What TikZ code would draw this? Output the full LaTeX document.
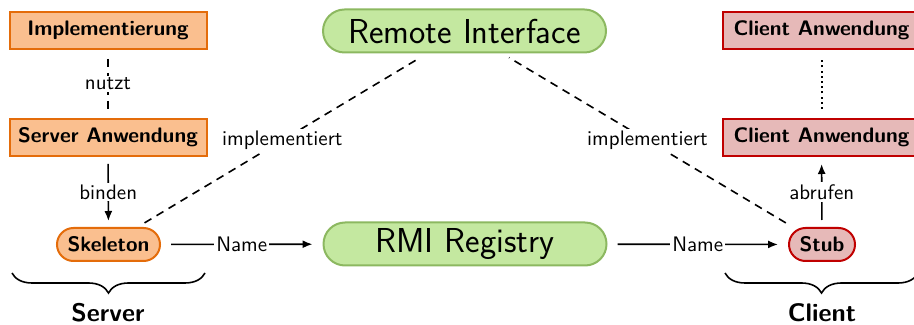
\documentclass[tikz,border=0pt]{standalone}
\usetikzlibrary{arrows.meta,decorations.pathreplacing}
\definecolor{srvfill}{HTML}{FABF8F}
\definecolor{srvline}{HTML}{E46C0A}
\definecolor{clifill}{HTML}{E6B9B8}
\definecolor{cliline}{HTML}{C00000}
\definecolor{midfill}{HTML}{C4E8A0}
\definecolor{midline}{HTML}{8CB860}
\newcommand{\basesize}{\fontsize{10.5}{12.6}\selectfont}
\newcommand{\hubsize}{\fontsize{17.3}{20.5}\selectfont}
\newcommand{\groupsize}{\fontsize{12.7}{15}\selectfont}
\begin{document}
\begin{tikzpicture}[x=0.5pt,y=-0.5pt,font=\sffamily\basesize,
  box/.style={draw, line width=1pt, minimum width=98.5pt, minimum height=18.5pt, inner sep=0pt, font=\sffamily\basesize\bfseries},
  srv/.style={fill=srvfill, draw=srvline},
  cli/.style={fill=clifill, draw=cliline},
  pill/.style={draw, line width=1pt, rounded corners=8.25pt, minimum height=16.5pt, inner sep=0pt, font=\sffamily\basesize\bfseries},
  hub/.style={draw=midline, fill=midfill, line width=1pt, minimum width=141.5pt, minimum height=21.5pt, rounded corners=10.75pt, inner sep=0pt, font=\sffamily\hubsize},
  conn/.style={line width=0.8pt},
  tip/.style={-{Latex[length=5pt,width=4pt]}},
  dashline/.style={dash pattern=on 4pt off 3pt},
  dotline/.style={line width=1pt, dash pattern=on 1pt off 1.6pt},
  lbl/.style={fill=white, inner sep=1pt, font=\sffamily\basesize},
  bracelbl/.style={font=\sffamily\groupsize\bfseries},
  curly/.style={line width=0.8pt, decorate, decoration={brace, mirror, amplitude=10pt}}
]
\useasboundingbox (0,0) rectangle (914,325);

% server side
\node[box,srv] (impl) at (108,30.5) {Implementierung};
\node[box,srv] (sapp) at (108,137.5) {Server Anwendung};
\node[pill,srv,minimum width=51.5pt] (skel) at (108.5,244.5) {Skeleton};

% shared middle
\node[hub] (ri) at (464.5,31) {Remote Interface};
\node[hub] (rmi) at (465,244) {RMI Registry};

% client side
\node[box,cli] (capp1) at (821.5,30.5) {Client Anwendung};
\node[box,cli] (capp2) at (821.5,137.5) {Client Anwendung};
\node[pill,cli,minimum width=33pt] (stub) at (822,244.5) {Stub};

% connectors
\draw[conn,dashline,shorten <=4.5pt,shorten >=4.5pt] (impl) -- node[lbl] (nutzt) {nutzt} (sapp);
\draw[conn,tip,shorten <=3.5pt,shorten >=3pt] (sapp) -- node[lbl] (binden) {binden} (skel);
\draw[conn,tip,shorten <=5pt,shorten >=5pt] (skel) -- node[lbl] (name1) {Name} (rmi);
\draw[conn,tip,shorten <=5pt,shorten >=5pt] (rmi) -- node[lbl] (name2) {Name} (stub);
\draw[conn,tip,shorten <=3.5pt,shorten >=3.5pt] (stub) -- node[lbl] (abrufen) {abrufen} (capp2);
\draw[conn,dotline,shorten <=4.5pt,shorten >=4.5pt] (capp2) -- (capp1);
\draw[conn,dashline,shorten <=4pt,shorten >=4pt] (skel) -- node[lbl] (impl1) {implementiert} (ri);
\draw[conn,dashline,shorten <=4pt,shorten >=4pt] (stub) -- node[lbl] (impl2) {implementiert} (ri);

% group braces
\coordinate (sb1) at (12,273);
\coordinate (sb2) at (205,273);
\coordinate (cb1) at (725,273);
\coordinate (cb2) at (918,273);
\draw[curly] (sb1) -- (sb2);
\draw[curly] (cb1) -- (cb2);
\node[bracelbl] (server) at (108,313) {Server};
\node[bracelbl] (client) at (822,313) {Client};
\end{tikzpicture}
\end{document}
